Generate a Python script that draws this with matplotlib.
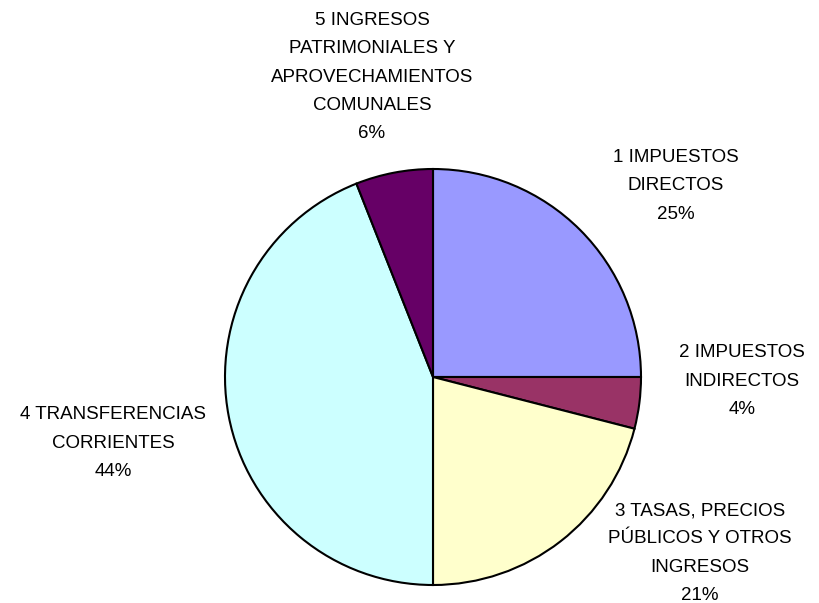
import matplotlib
matplotlib.use("Agg")
import matplotlib.pyplot as plt

# data
labels = ["1 IMPUESTOS\nDIRECTOS",
          "2 IMPUESTOS\nINDIRECTOS",
          "3 TASAS, PRECIOS\nPÚBLICOS Y OTROS\nINGRESOS",
          "4 TRANSFERENCIAS\nCORRIENTES",
          "5 INGRESOS\nPATRIMONIALES Y\nAPROVECHAMIENTOS\nCOMUNALES"]
values = [25, 4, 21, 44, 6]
colors = ["#9999FF", "#993366", "#FFFFCC", "#CCFFFF", "#660066"]

# label centers, offsets from pie center (pixels)
label_offsets = [(243, 191), (309, -4), (267, -176), (-320, -66), (-61, 300)]

plt.rcParams['font.family'] = ['Liberation Sans', 'DejaVu Sans']

fig = plt.figure(figsize=(8.2, 6.03), dpi=100)
ax = fig.add_axes([0, 0, 1, 1])

cx, cy, r = 433, 226, 208
ax.pie(values, colors=colors, startangle=90, counterclock=False,
       center=(cx, cy), radius=r, frame=True,
       wedgeprops=dict(edgecolor='black', linewidth=1.5))
ax.set_xlim(0, 820)
ax.set_ylim(0, 603)
ax.set_aspect('equal')
ax.axis('off')

total = sum(values)
for lab, v, (dx, dy) in zip(labels, values, label_offsets):
    pct = round(100 * v / total)
    ax.text(cx + dx, cy + dy, f"{lab}\n{pct}%", ha='center', va='center',
            fontsize=13.5, linespacing=1.85, color='black')

fig.savefig("out.png", dpi=100)
